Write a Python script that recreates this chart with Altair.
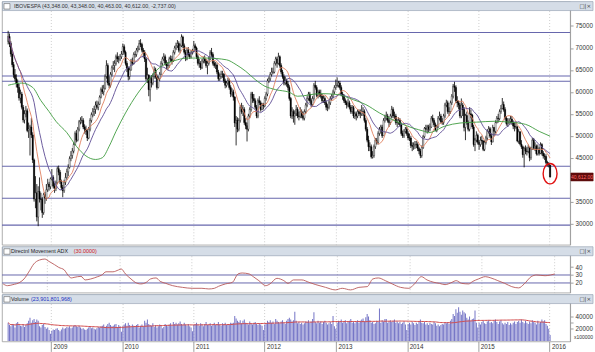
import altair as alt
import pandas as pd

# ---------------- data (index points in thousands) ----------------
OPEN0 = 71.5
CLOSE = [
    72.6, 71.0, 68.6, 66.2, 63.9, 63.0, 61.9, 61.0, 58.6, 59.5,
    56.5, 53.6, 55.0, 55.7, 51.2, 51.5, 52.0, 50.2, 44.5, 35.6,
    37.0, 31.5, 37.3, 35.6, 35.5, 32.5, 36.6, 35.8, 37.7, 39.0,
    38.4, 40.2,
    40.5, 38.5, 38.0, 39.3, 42.5, 41.7, 39.5, 38.2, 37.5, 39.4,
    40.5, 41.8, 42.8, 44.8, 45.5, 46.5, 48.0, 50.5, 49.0, 51.5,
    53.2, 53.5, 53.5, 52.0, 51.5, 51.0, 49.5, 51.5, 53.5, 54.8,
    55.5, 56.0, 57.0, 56.5, 57.2, 58.8, 60.5, 60.0, 60.8, 63.5,
    66.0, 62.0, 61.5, 64.0, 65.5, 66.0, 66.5, 68.0, 67.5, 67.5,
    68.0, 68.6,
    70.3, 69.0, 66.5, 65.4, 63.5, 65.0, 67.0, 66.5, 68.5, 68.5,
    69.5, 69.8, 71.0, 70.8, 69.5, 69.0, 67.5, 63.0, 63.8, 60.5,
    63.0, 62.0, 63.5, 65.0, 63.5, 61.0, 63.0, 64.0, 66.5, 67.5,
    68.0, 66.5, 66.0, 66.0, 67.5, 67.5, 67.0, 69.0, 70.0, 70.5,
    71.0, 69.5, 70.5, 72.5, 70.5, 69.0, 67.5, 69.5, 68.5, 68.0,
    69.0, 69.3,
    70.5, 70.0, 68.0, 66.5, 66.5, 65.5, 67.0, 67.5, 67.0, 66.0,
    66.5, 67.5, 69.0, 68.5, 66.5, 66.0, 66.1, 64.5, 63.0, 63.5,
    64.0, 64.0, 62.5, 61.5, 62.0, 62.5, 61.0, 59.5, 60.0, 58.8,
    52.9, 53.5, 51.5, 53.5, 56.5, 55.5, 56.0, 53.0, 52.3, 51.5,
    54.5, 56.0, 59.5, 58.5, 58.0, 56.5, 54.5, 58.0, 57.5, 56.0,
    57.0, 56.8,
    58.5, 59.5, 62.5, 63.0, 64.0, 64.5, 64.5, 66.5, 67.5, 66.5,
    68.0, 66.0, 64.5, 63.5, 62.0, 62.5, 61.8, 61.0, 58.5, 54.5,
    55.5, 54.5, 55.0, 56.0, 54.5, 54.4, 55.5, 54.5, 54.0, 55.5,
    57.0, 58.5, 59.5, 58.0, 57.1, 58.5, 61.5, 61.0, 59.2, 60.0,
    59.5, 59.0, 58.0, 58.5, 57.5, 56.5, 56.5, 57.5, 58.5, 59.0,
    60.0, 61.0, 61.5,
    61.5, 62.0, 61.0, 59.5, 59.0, 58.0, 57.5, 57.0, 57.5, 56.5,
    55.5, 56.4, 54.5, 55.0, 54.5, 55.5, 55.0, 55.0, 55.5, 55.5,
    53.5, 51.5, 49.0, 47.5, 47.5, 45.2, 45.5, 47.5, 49.0, 48.5,
    50.5, 51.5, 52.0, 50.0, 53.5, 54.0, 54.5, 53.5, 53.0, 54.5,
    56.0, 54.5, 54.5, 53.0, 53.0, 53.5, 52.5, 50.5, 50.0, 51.0,
    51.5, 50.5,
    49.5, 49.5, 47.8, 47.6, 47.8, 48.0, 48.0, 47.1, 46.5, 45.5,
    47.3, 49.8, 51.7, 51.5, 52.0, 51.5, 52.0, 54.0, 53.5, 52.5,
    51.2, 52.0, 54.0, 54.5, 53.2, 53.0, 54.5, 57.0, 57.5, 55.5,
    55.5, 57.5, 59.0, 61.3, 61.0, 58.0, 57.5, 57.0, 54.5, 57.0,
    56.0, 51.9, 54.6, 53.0, 51.5, 55.0, 54.7, 52.0, 48.0, 49.0,
    50.1, 48.5,
    48.0, 49.0, 48.8, 46.9, 48.5, 49.5, 51.0, 51.6, 49.9, 48.6,
    51.9, 51.0, 53.0, 54.0, 53.9, 55.5, 56.2, 57.1, 56.0, 54.0,
    52.8, 53.0, 53.3, 53.8, 53.0, 52.2, 52.0, 52.0, 48.8, 50.9,
    48.1, 47.5, 45.7, 47.1, 46.5, 46.4, 47.3, 45.0, 47.0, 49.0,
    47.2, 47.6, 45.9, 47.0, 46.0, 48.0, 46.0, 45.4, 45.3, 43.9,
    43.7, 43.35,
    40.612,
]
HIGH = [
    73.9, 73.3, 71.5, 69.2, 66.8, 65.2, 64.0, 62.8, 61.8, 60.5,
    60.0, 57.0, 55.8, 56.8, 56.2, 53.0, 52.5, 54.0, 50.8, 44.8,
    40.8, 39.0, 38.5, 40.5, 37.0, 36.0, 37.0, 37.2, 39.0, 40.2,
    39.5, 40.5,
    42.4, 41.0, 39.2, 39.8, 43.0, 43.2, 42.2, 40.0, 38.8, 40.0,
    41.5, 42.5, 43.5, 45.3, 46.5, 47.2, 48.5, 51.0, 51.3, 52.0,
    53.6, 54.2, 54.5, 54.0, 52.6, 52.3, 51.5, 52.0, 54.0, 55.3,
    56.3, 56.8, 57.8, 58.0, 57.8, 59.2, 61.0, 61.5, 61.6, 64.0,
    67.2, 66.5, 63.5, 64.5, 66.0, 67.0, 67.2, 68.5, 69.0, 68.2,
    68.6, 69.3,
    71.0, 70.8, 69.4, 67.0, 65.8, 65.6, 67.5, 67.8, 69.0, 69.3,
    70.0, 70.5, 71.8, 72.0, 71.2, 70.0, 69.5, 67.8, 65.5, 64.0,
    63.5, 63.8, 64.2, 65.8, 65.5, 64.0, 63.5, 64.5, 67.0, 68.0,
    68.8, 68.5, 67.2, 66.8, 68.0, 68.3, 68.2, 69.5, 70.5, 71.2,
    71.8, 71.5, 71.0, 73.1, 72.8, 71.0, 69.5, 70.0, 70.2, 69.0,
    69.5, 69.8,
    71.6, 71.0, 70.3, 68.5, 67.5, 67.0, 67.5, 68.0, 68.3, 67.5,
    67.0, 68.0, 69.5, 70.0, 69.0, 67.0, 66.8, 66.5, 65.0, 64.2,
    64.8, 64.8, 64.3, 63.0, 62.5, 63.2, 63.0, 61.5, 60.8, 60.5,
    59.0, 54.5, 54.2, 54.0, 57.0, 57.5, 57.0, 56.5, 54.0, 53.0,
    55.0, 56.5, 60.0, 60.0, 59.5, 58.5, 57.0, 58.5, 59.0, 58.0,
    57.5, 57.5,
    59.0, 60.0, 63.0, 63.5, 64.5, 65.5, 65.5, 67.0, 68.0, 68.0,
    68.9, 68.3, 66.5, 65.0, 64.0, 63.5, 63.0, 62.5, 61.5, 58.8,
    56.5, 56.0, 55.8, 57.0, 56.5, 55.5, 56.5, 56.0, 55.5, 56.0,
    57.5, 59.0, 60.0, 60.0, 58.5, 59.0, 62.0, 62.5, 61.5, 60.5,
    60.5, 60.5, 59.5, 59.2, 59.0, 58.0, 57.2, 58.0, 59.0, 59.5,
    60.5, 61.5, 62.8,
    63.3, 62.5, 62.5, 61.5, 60.0, 59.5, 58.5, 58.0, 58.5, 58.0,
    57.0, 57.0, 56.8, 55.5, 55.5, 56.0, 56.0, 56.0, 57.0, 56.5,
    56.0, 54.0, 52.0, 50.0, 48.5, 48.0, 46.5, 48.0, 49.5, 49.5,
    51.0, 52.0, 52.5, 52.5, 54.0, 54.8, 55.5, 55.0, 54.0, 55.0,
    56.8, 56.5, 55.5, 55.0, 53.8, 54.2, 54.0, 53.0, 51.2, 51.5,
    52.0, 52.0,
    51.0, 50.5, 50.0, 48.5, 48.5, 48.8, 48.8, 48.5, 47.5, 47.0,
    47.8, 50.2, 52.0, 52.5, 52.5, 52.5, 52.8, 54.5, 54.8, 54.0,
    53.0, 52.5, 54.5, 55.5, 55.0, 54.0, 55.0, 57.5, 58.2, 58.0,
    56.5, 58.0, 59.5, 61.8, 62.3, 61.5, 59.0, 58.0, 57.5, 58.5,
    57.5, 56.5, 55.0, 55.5, 53.5, 56.5, 56.0, 55.0, 52.5, 49.5,
    51.0, 50.5,
    49.0, 49.8, 50.0, 49.0, 49.0, 50.0, 51.5, 52.2, 52.0, 50.5,
    52.5, 52.0, 53.5, 54.5, 55.0, 56.0, 57.0, 58.6, 57.8, 56.5,
    54.5, 54.0, 54.0, 54.5, 54.5, 53.5, 53.0, 53.0, 52.3, 51.5,
    51.0, 49.0, 47.8, 47.5, 47.8, 47.5, 48.0, 47.5, 47.5, 49.5,
    49.5, 48.5, 48.0, 48.0, 47.5, 48.5, 48.3, 46.5, 46.0, 45.8,
    44.3, 44.0,
    43.348,
]
LOW = [
    70.8, 70.2, 68.0, 65.6, 63.2, 62.4, 61.0, 59.8, 58.0, 57.4,
    56.0, 53.0, 52.8, 54.2, 50.8, 49.5, 45.5, 49.5, 43.8, 35.0,
    33.5, 30.5, 29.4, 34.8, 33.0, 31.3, 32.0, 34.5, 35.2, 37.2,
    37.5, 37.8,
    39.8, 38.0, 37.0, 37.4, 39.0, 41.0, 39.0, 37.6, 36.0, 37.0,
    38.8, 40.0, 40.8, 42.5, 44.2, 44.8, 46.0, 47.8, 48.5, 48.7,
    51.0, 52.6, 52.8, 51.5, 50.5, 50.2, 48.8, 49.2, 51.0, 53.0,
    54.2, 54.5, 55.0, 56.0, 55.8, 57.0, 58.5, 59.5, 59.2, 60.5,
    63.0, 61.5, 60.8, 61.0, 63.5, 65.0, 64.5, 66.0, 66.8, 66.5,
    67.0, 67.5,
    68.4, 68.5, 66.0, 64.5, 62.6, 62.8, 64.8, 66.0, 66.2, 67.8,
    68.0, 69.0, 69.5, 70.2, 69.0, 67.8, 66.8, 62.5, 62.0, 59.0,
    57.8, 61.0, 61.5, 63.0, 63.0, 60.5, 60.8, 62.5, 63.8, 66.0,
    67.0, 66.0, 65.2, 65.0, 65.5, 66.8, 66.2, 66.8, 68.5, 69.5,
    70.0, 69.0, 68.8, 70.2, 70.0, 68.5, 67.0, 67.2, 68.0, 67.5,
    67.6, 68.5,
    69.0, 69.5, 67.5, 66.0, 65.5, 65.0, 65.2, 66.5, 66.5, 65.5,
    64.0, 66.0, 67.2, 68.0, 66.0, 65.5, 65.2, 64.0, 62.5, 62.5,
    63.0, 63.2, 62.0, 60.8, 61.0, 61.5, 60.5, 58.8, 59.0, 58.0,
    52.0, 47.8, 50.8, 51.0, 53.0, 55.0, 54.5, 52.5, 51.5, 48.7,
    51.0, 54.0, 55.5, 57.5, 57.5, 56.0, 54.0, 54.0, 57.0, 55.5,
    55.8, 56.0,
    56.5, 58.0, 59.0, 62.0, 62.5, 63.5, 64.0, 64.2, 66.0, 65.5,
    66.2, 65.5, 64.0, 63.0, 61.5, 61.5, 61.2, 60.3, 58.0, 54.0,
    53.8, 53.0, 52.5, 54.5, 54.0, 53.5, 54.0, 54.0, 53.5, 53.5,
    55.0, 56.5, 58.0, 57.5, 56.5, 56.8, 58.0, 60.5, 58.8, 58.5,
    58.8, 58.5, 57.5, 57.5, 57.0, 55.8, 55.6, 56.0, 57.0, 58.0,
    58.5, 59.5, 60.5,
    61.0, 61.0, 60.5, 59.0, 58.2, 57.5, 57.0, 56.2, 56.5, 56.0,
    55.0, 55.0, 54.0, 53.8, 53.5, 54.0, 54.5, 54.0, 54.5, 54.5,
    53.0, 51.0, 48.5, 46.5, 46.5, 44.8, 44.8, 45.0, 47.0, 48.0,
    48.0, 50.0, 50.5, 49.5, 50.0, 53.0, 53.5, 53.0, 52.0, 52.5,
    54.0, 54.0, 53.8, 52.5, 52.0, 52.5, 52.0, 50.0, 49.5, 49.5,
    50.5, 50.0,
    49.0, 48.8, 47.2, 46.5, 46.8, 47.0, 47.2, 46.5, 45.8, 44.9,
    45.0, 47.0, 49.5, 50.8, 50.5, 50.8, 51.0, 51.8, 53.0, 52.0,
    51.0, 50.8, 51.8, 53.5, 52.8, 52.5, 52.5, 54.0, 56.5, 55.0,
    54.5, 55.0, 57.0, 58.5, 60.0, 57.5, 56.5, 56.0, 54.0, 54.0,
    54.5, 51.0, 49.0, 52.5, 51.0, 51.0, 54.0, 51.5, 47.5, 46.5,
    48.5, 48.0,
    46.8, 47.5, 48.0, 46.5, 46.5, 48.0, 49.0, 50.5, 49.5, 47.9,
    48.5, 50.0, 50.5, 52.8, 53.0, 53.5, 55.0, 56.0, 55.5, 53.5,
    52.3, 52.0, 52.5, 52.8, 52.5, 51.5, 51.0, 51.5, 48.5, 48.2,
    47.8, 47.0, 45.0, 42.8, 45.8, 45.5, 46.0, 44.2, 44.5, 46.8,
    46.8, 46.5, 45.5, 45.5, 45.5, 45.8, 45.5, 44.8, 44.5, 43.5,
    43.0, 42.8,
    40.463,
]
# weekly volume (axis units, thousands; axis multiplier x100000)
VOLUME = [
    30, 26, 24, 28, 27, 22, 29, 31, 27, 25, 24, 28, 23, 26, 29, 33, 38, 30, 34, 36,
    31, 35, 33, 24, 22, 26, 28, 23, 20, 22, 18, 12,
    17, 19, 18, 20, 21, 18, 16, 19, 22, 20, 21, 23, 22, 24, 21, 22, 25, 26, 24, 23,
    25, 22, 20, 21, 19, 18, 20, 22, 23, 21, 22, 20, 19, 21, 23, 22, 24, 25, 27, 23,
    25, 28, 30, 26, 24, 25, 27, 28, 23, 26, 24, 15,
    24, 27, 29, 25, 30, 26, 23, 27, 25, 24, 26, 28, 22, 25, 27, 24, 33, 30, 35, 28,
    26, 25, 29, 23, 26, 22, 24, 27, 25, 21, 23, 28, 26, 24, 27, 29, 25, 31, 28, 30,
    27, 29, 32, 28, 26, 30, 27, 25, 28, 24, 22, 16,
    26, 28, 30, 27, 25, 29, 27, 24, 28, 31, 26, 27, 29, 25, 27, 30, 26, 28, 31, 27,
    25, 29, 28, 30, 26, 28, 27, 30, 29, 30, 41, 37, 33, 31, 34, 29, 33, 35, 30, 28,
    27, 32, 29, 27, 30, 31, 28, 26, 29, 27, 25, 18,
    27, 29, 33, 31, 34, 30, 32, 28, 36, 33, 31, 29, 32, 34, 30, 28, 33, 36, 38, 35,
    32, 34, 48, 33, 29, 31, 28, 30, 27, 29, 32, 31, 34, 30, 32, 36, 47, 31, 29, 33,
    30, 32, 28, 31, 33, 30, 27, 29, 31, 28, 41, 24, 20,
    30, 33, 31, 35, 30, 32, 34, 29, 31, 33, 36, 30, 32, 29, 31, 34, 30, 33, 35, 37,
    32, 39, 44, 40, 34, 30, 31, 28, 29, 33, 31, 53, 30, 34, 32, 36, 36, 30, 32, 34,
    31, 33, 35, 30, 32, 29, 31, 28, 30, 32, 27, 18,
    28, 30, 27, 31, 29, 26, 30, 28, 32, 35, 30, 29, 31, 27, 29, 26, 30, 28, 27, 31,
    29, 25, 27, 24, 26, 28, 27, 30, 29, 31, 28, 33, 36, 44, 41, 52, 46, 55, 48, 43,
    50, 47, 45, 38, 35, 40, 33, 36, 37, 50, 30, 22,
    30, 27, 31, 33, 29, 28, 32, 34, 30, 31, 29, 33, 35, 31, 28, 32, 34, 29, 27, 30,
    28, 31, 26, 29, 27, 30, 32, 28, 31, 33, 30, 35, 31, 29, 33, 30, 28, 32, 29, 34,
    31, 30, 27, 33, 29, 31, 35, 32, 34, 28, 25, 20,
    10,
]
# ADX line, read at week positions
ADX_IDX = [0, 3, 7, 12, 15, 19, 22, 26, 30, 33, 37, 40, 44, 46, 49, 51, 56, 59, 63, 68,
           71, 74, 79, 83, 85, 88, 92, 95, 99, 103, 106, 110, 113, 117, 122, 129, 136, 143, 148, 152,
           155, 160, 165, 169, 172, 177, 180, 184, 189, 192, 197, 202, 205, 209, 215,
           220, 225, 232, 239, 244, 250, 256, 262, 266, 270, 275, 280, 286, 292, 296, 301, 305, 310,
           314, 318, 323, 326, 330, 335, 338, 342, 347, 351, 356, 361, 366, 371, 375, 380, 384, 390,
           394, 397]
ADX_VAL = [18.8, 16.6, 17.9, 20.8, 25.0, 35.4, 43.8, 48.7, 50.0, 47.0, 42.9, 39.5, 36.3, 31.3, 26.3,
           27.0, 28.3, 23.8, 25.0, 27.9, 30.0, 34.0, 34.0, 36.3, 37.5, 31.3, 25.0, 20.8, 18.8, 20.8,
           25.0, 26.3, 22.0, 19.5, 16.6, 14.5, 13.3, 13.3, 12.5, 13.3, 15.8, 18.8, 20.8, 31.3, 32.5,
           31.3, 27.9, 22.9, 16.6, 18.8, 25.8, 22.9, 19.5, 23.8, 23.8,
           20.8, 17.9, 14.5, 11.3, 13.3, 11.3, 14.5, 15.4, 25.0, 26.3, 22.9, 18.8, 14.5, 13.3, 18.8,
           27.9, 23.8, 20.8, 19.5, 17.9, 20.8, 22.9, 19.5, 18.8, 22.0, 25.0, 27.9, 26.3, 22.9, 19.5,
           15.4, 13.8, 18.8, 27.9, 30.0, 29.1, 30.0, 31.3]
# long moving average (green), read at week positions, thousands
GREEN_IDX = [0, 10, 18, 24, 30, 35, 43, 50, 57, 64, 69, 74, 79, 86, 95, 104, 109, 117, 124, 131,
             138, 145, 160, 167, 174, 181, 188, 196, 206, 212, 229, 241, 253, 262, 272, 284, 296,
             305, 308, 320, 331, 343, 356, 367, 379, 389, 397]
GREEN_VAL = [61.5, 62.0, 61.0, 58.0, 55.5, 53.3, 50.7, 47.6, 45.4, 44.6, 45.0, 47.6, 51.0, 55.2, 59.7,
             63.2, 65.0, 66.6, 67.3, 67.7, 67.7, 67.7, 67.3, 66.2, 64.7, 62.8, 61.3, 60.5, 59.9, 59.0,
             59.6, 59.4, 58.2, 57.1, 55.2, 53.3, 51.8, 51.0, 50.7, 52.2, 52.9, 53.1, 53.3, 53.1, 52.6,
             51.0, 49.9]
LEVELS = [73525, 63600, 62400, 43040, 35770, 29650]
PRICE_TICKS = [30000, 35000, 40000, 45000, 50000, 55000, 60000, 65000, 70000, 75000]
ADX_TICKS = [20, 30, 40]
ADX_LEVELS = [30, 20]
VOL_TICKS = [20000, 30000, 40000]
YEARS = [2009, 2010, 2011, 2012, 2013, 2014, 2015, 2016]
MAIN_TITLE = "IBOVESPA (43,348.00, 43,348.00, 40,463.00, 40,612.00, -2,737.00)"
ADX_TITLE = "Directnl Movement ADX"
ADX_PARAM = "(30.0000)"
VOL_TITLE = "Volume"
VOL_PARAM = "(23,901,801,968)"
LAST_LABEL = "40,612.00"

n = len(CLOSE)
assert len(HIGH) == n and len(LOW) == n and len(VOLUME) == n, (n, len(HIGH), len(LOW), len(VOLUME))
assert len(ADX_IDX) == len(ADX_VAL) and len(GREEN_IDX) == len(GREEN_VAL)

dates = pd.date_range("2008-05-26", periods=n, freq="W-MON")
opens = [OPEN0] + CLOSE[:-1]
df = pd.DataFrame({
    "date": dates,
    "open": [v * 1000 for v in opens],
    "close": [v * 1000 for v in CLOSE],
    "high": [v * 1000 for v in HIGH],
    "low": [v * 1000 for v in LOW],
    "vol": [v * 1000 for v in VOLUME],
})
adx_df = pd.DataFrame({"date": dates[ADX_IDX], "adx": ADX_VAL})
green_df = pd.DataFrame({"date": dates[GREEN_IDX], "ma": [v * 1000 for v in GREEN_VAL]})
levels_df = pd.DataFrame({"level": LEVELS})
adx_lv_df = pd.DataFrame({"level": ADX_LEVELS})
last_df = df.tail(1)
one = pd.DataFrame({"k": [0]})

# ---------------- styling ----------------
FONT = "Liberation Sans"
W = 570
H_MAIN, H_ADX, H_VOL = 244, 46, 47
RIGHT = 593
BAR_FILL, BAR_STROKE = "#d5dde7", "#9aa6b6"
LEVEL_COLOR = "#6767ad"
TFS = 5.4

xs = alt.Scale(domain=[alt.DateTime(year=2008, month=5, date=20),
                       alt.DateTime(year=2016, month=3, date=21)])
year_vals = [alt.DateTime(year=y, month=1, date=1) for y in YEARS]
grid_axis = alt.Axis(values=year_vals, labels=False, ticks=False, domain=False, grid=True,
                     gridColor="#c2c2c2", gridDash=[1, 2], gridWidth=0.8, title=None,
                     minExtent=0, maxExtent=0)
bottom_axis = alt.Axis(values=year_vals, format="%Y", labelAlign="left", labelBaseline="top",
                       tickSize=10, labelPadding=-8, labelOffset=2, labelFlush=False,
                       grid=True, gridColor="#c2c2c2", gridDash=[1, 2], gridWidth=0.8,
                       domain=False, tickColor="#777", title=None)


def X(axis):
    return alt.X("date:T", scale=xs, axis=axis, title=None)


ys_main = alt.Scale(domain=[25170, 80560], nice=False, zero=False)
ax_main = alt.Axis(orient="right", values=PRICE_TICKS, format="d", tickSize=3, labelPadding=2,
                   grid=False, title=None,
                   labelExpr="datum.value == 40000 ? '' : datum.label")


def YM(field):
    return alt.Y(field, scale=ys_main, axis=ax_main, title=None)


def title_bar(h=9):
    return alt.Chart(one).mark_rect(fill=BAR_FILL, stroke=BAR_STROKE, strokeWidth=0.7).encode(
        x=alt.value(0.5), x2=alt.value(RIGHT), y=alt.value(0), y2=alt.value(h))


def check_box():
    return alt.Chart(one).mark_rect(fill="white", stroke="#666", strokeWidth=0.6).encode(
        x=alt.value(2), x2=alt.value(8), y=alt.value(2), y2=alt.value(7.5))


def win_icons():
    return alt.Chart(one).mark_text(font="DejaVu Sans", fontSize=5.5, align="right", baseline="middle",
                                    color="#333", text="\u25a1|\u00d7").encode(
        x=alt.value(RIGHT - 2), y=alt.value(4.7))


def label(text, x, color):
    return alt.Chart(one).mark_text(font=FONT, fontSize=TFS, align="left", baseline="middle",
                                    color=color, text=text).encode(x=alt.value(x), y=alt.value(4.7))


# ---------------- main price panel ----------------
levels = alt.Chart(levels_df).mark_rule(color=LEVEL_COLOR, strokeWidth=1.1).encode(y=YM("level:Q"))
wick = alt.Chart(df).mark_rule(color="black", strokeWidth=0.8).encode(
    x=X(grid_axis), y=YM("low:Q"), y2="high:Q")
body = alt.Chart(df).mark_bar(width=1.3, stroke="black", strokeWidth=0.4).encode(
    x=X(grid_axis), y=YM("open:Q"), y2="close:Q",
    fill=alt.condition(alt.datum.close >= alt.datum.open, alt.value("white"), alt.value("black")))
ma_fast = alt.Chart(df).transform_window(
    ma="mean(close)", frame=[-9, 0], sort=[alt.SortField("date")]
).mark_line(color="#e0805e", strokeWidth=0.9).encode(x=X(grid_axis), y=YM("ma:Q"))
ma_mid = alt.Chart(df).transform_window(
    ma="mean(close)", frame=[-19, 0], sort=[alt.SortField("date")]
).mark_line(color="#5d4b94", strokeWidth=0.9).encode(x=X(grid_axis), y=YM("ma:Q"))
ma_long = alt.Chart(green_df).mark_line(color="#3f9b3f", strokeWidth=0.9, interpolate="monotone").encode(
    x=X(grid_axis), y=YM("ma:Q"))
ellipse = alt.Chart(last_df).mark_point(
    shape="M 0 -1 A 0.68 1 0 1 1 0 1 A 0.68 1 0 1 1 0 -1 Z", size=420, filled=False,
    stroke="#e01010", strokeWidth=1.4, opacity=1).encode(
    x=X(grid_axis), y=YM("low:Q"), yOffset=alt.value(-4))
price_box = alt.Chart(last_df).mark_point(
    shape="M -1 -0.36 L 1 -0.36 L 1 0.36 L -1 0.36 Z", size=500, filled=True,
    fill="#5e0c0c", stroke="#5e0c0c", strokeWidth=0.5, opacity=1).encode(x=alt.value(582), y=YM("close:Q"))
price_txt = alt.Chart(last_df).mark_text(font=FONT, fontSize=5, color="#ff6a6a", text=LAST_LABEL,
                                         align="center", baseline="middle").encode(
    x=alt.value(582), y=YM("close:Q"))

main = alt.layer(
    levels, wick, body, ma_fast, ma_mid, ma_long, ellipse,
    title_bar(), check_box(), label(MAIN_TITLE, 12, "#333"), win_icons(),
    price_box, price_txt,
).properties(width=W, height=H_MAIN)

# ---------------- ADX panel ----------------
ys_adx = alt.Scale(domain=[7.9, 65.4], nice=False, zero=False)
ax_adx = alt.Axis(orient="right", values=ADX_TICKS, tickSize=3, labelPadding=2, grid=False, title=None)


def YA(field):
    return alt.Y(field, scale=ys_adx, axis=ax_adx, title=None)


adx_lv = alt.Chart(adx_lv_df).mark_rule(color=LEVEL_COLOR, strokeWidth=1.0).encode(y=YA("level:Q"))
adx_line = alt.Chart(adx_df).mark_line(color="#b85a5a", strokeWidth=0.9, interpolate="monotone").encode(
    x=X(grid_axis), y=YA("adx:Q"))
adx = alt.layer(
    adx_lv, adx_line, title_bar(), check_box(), label(ADX_TITLE, 9, "#222"),
    label(ADX_PARAM, 72, "#d02020"), win_icons(),
).properties(width=W, height=H_ADX)

# ---------------- volume panel ----------------
ys_vol = alt.Scale(domain=[-650, 75800], nice=False, zero=False)
ax_vol = alt.Axis(orient="right", values=VOL_TICKS, format="d", tickSize=3, labelPadding=2,
                  grid=False, title=None)


def YV(field):
    return alt.Y(field, scale=ys_vol, axis=ax_vol, title=None)


vbars = alt.Chart(df).mark_bar(width=1.0, color="#7474c6").encode(
    x=X(bottom_axis), y=YV("vol:Q"), y2=alt.datum(0))
vma = alt.Chart(df).transform_window(
    vma="mean(vol)", frame=[-51, 0], sort=[alt.SortField("date")]
).mark_line(color="#d24a4a", strokeWidth=1.0).encode(x=X(bottom_axis), y=YV("vma:Q"))
mult = alt.Chart(one).mark_text(font=FONT, fontSize=5, align="left", baseline="middle",
                                color="#333", text="x100000").encode(x=alt.value(574), y=alt.value(42.5))
vol = alt.layer(
    vbars, vma, title_bar(), check_box(), label(VOL_TITLE, 9, "#222"),
    label(VOL_PARAM, 29, "#2030c0"), win_icons(), mult,
).properties(width=W, height=H_VOL)

chart = alt.vconcat(main, adx, vol, spacing=2, bounds="flush").properties(
    padding={"left": 0, "top": 0, "right": 0, "bottom": 0}, background="white"
).configure_view(stroke="#9a9a9a", strokeWidth=0.8).configure_axis(
    labelFont=FONT, labelFontSize=6.3, labelColor="#333", tickColor="#777", domainColor="#999",
    tickWidth=0.7, domainWidth=0.8)

chart.save("out.html", embed_options={"renderer": "svg", "actions": False})
